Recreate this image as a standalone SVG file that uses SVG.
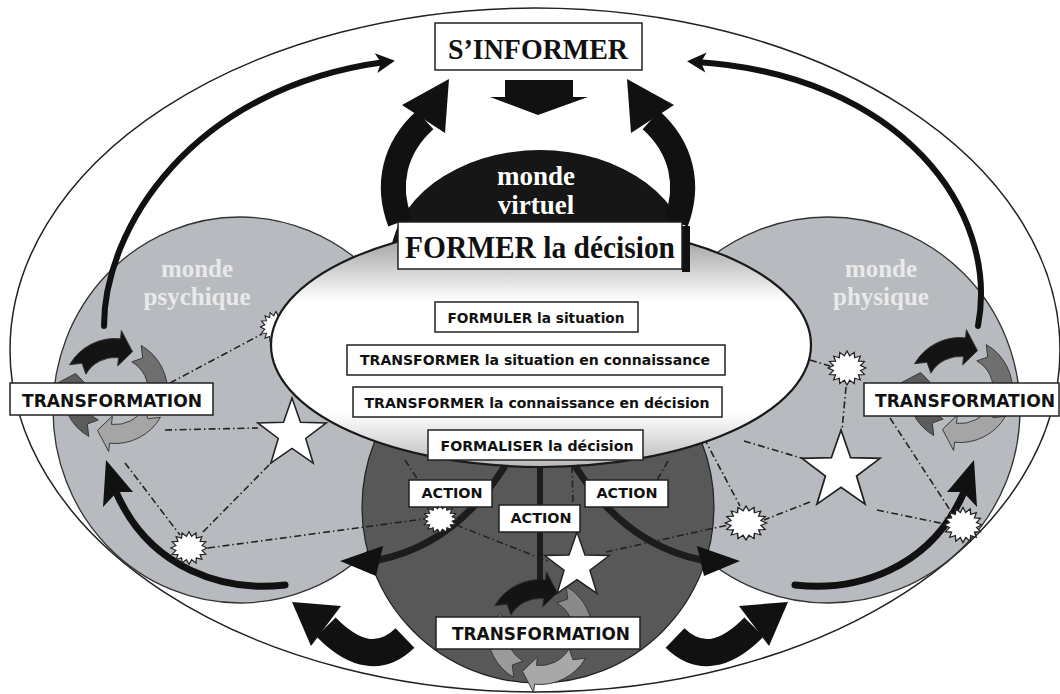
<svg xmlns="http://www.w3.org/2000/svg" width="1060" height="694" viewBox="0 0 1060 694">
<style>
.serif{font-family:"Liberation Serif","DejaVu Serif",serif;font-weight:bold}
.sans{font-family:"DejaVu Sans","Liberation Sans",sans-serif;font-weight:bold;fill:#111}
.box{fill:#fff;stroke:#222;stroke-width:1.5}
.net{fill:none;stroke:#222;stroke-width:1.6;stroke-dasharray:7 3 1.5 3}
.dark{fill:#111}
.seg{stroke:#333;stroke-width:0.8}
.star{fill:#fff;stroke:#222;stroke-width:1.5}
.burst{fill:#fff;stroke:#222;stroke-width:0.9}
</style>
<defs>
<linearGradient id="eg" x1="0" y1="0" x2="0" y2="1">
<stop offset="0" stop-color="#8a8a8a"/>
<stop offset="0.32" stop-color="#ffffff"/>
<stop offset="0.78" stop-color="#ffffff"/>
<stop offset="1" stop-color="#b8b8b8"/>
</linearGradient>
<path id="seg" d="M50,0 A50,50 0 0 1 20.34,45.68 L23.59,52.99 L4.29,40.78 L9.76,21.92 L13.02,29.23 A32,32 0 0 0 32,0 L40.38,7.12 Z"/>
<path id="star" d="M0,-35 L8.23,-11.33 L33.29,-10.82 L13.31,4.33 L20.57,28.32 L0,14 L-20.57,28.32 L-13.31,4.33 L-33.29,-10.82 L-8.23,-11.33 Z"/>
<path id="burst" d="M13,0 L9.32,1.85 L12.01,4.97 L7.9,5.28 L9.19,9.19 L5.28,7.9 L4.97,12.01 L1.85,9.32 L0,13 L-1.85,9.32 L-4.97,12.01 L-5.28,7.9 L-9.19,9.19 L-7.9,5.28 L-12.01,4.97 L-9.32,1.85 L-13,0 L-9.32,-1.85 L-12.01,-4.97 L-7.9,-5.28 L-9.19,-9.19 L-5.28,-7.9 L-4.97,-12.01 L-1.85,-9.32 L0,-13 L1.85,-9.32 L4.97,-12.01 L5.28,-7.9 L9.19,-9.19 L7.9,-5.28 L12.01,-4.97 L9.32,-1.85 Z"/>
<marker id="barb" markerUnits="userSpaceOnUse" viewBox="-12 -12 24 24" markerWidth="24" markerHeight="24" refX="0" refY="0" orient="auto"><path d="M10,0 L-9,-10 L-4,0 L-9,10 Z" fill="#111"/></marker>
</defs>
<rect width="1060" height="694" fill="#fff"/>

<g id="outer">
<ellipse cx="535" cy="350" rx="525" ry="342" fill="#fff" stroke="#222" stroke-width="1.5"/>
</g>

<g id="monde-psychique">
<ellipse cx="240" cy="410" rx="187" ry="193" fill="#b7babe" stroke="#333" stroke-width="1.3"/>
</g>
<g id="monde-physique">
<ellipse cx="828" cy="410" rx="192" ry="193" fill="#b7babe" stroke="#333" stroke-width="1.3"/>
</g>
<g id="monde-bas">
<circle cx="538" cy="507" r="176" fill="#585858" stroke="#222" stroke-width="1.2"/>
</g>
<g id="monde-virtuel">
<ellipse cx="540" cy="262" rx="150" ry="112" fill="#161616"/>
</g>

<g id="bursts-under">
<use href="#burst" class="burst" transform="translate(276,327) scale(1.2)"/>
</g>

<g id="connectors">
<path class="net" d="M170,383 L262,334"/>
<path class="net" d="M165,430 L258,428"/>
<path class="net" d="M125,463 L180,535"/>
<path class="net" d="M203,532 L272,462"/>
<path class="net" d="M208,548 L424,519"/>
<path class="net" d="M456,525 L550,562"/>
<path class="net" d="M606,552 L728,525"/>
<path class="net" d="M572,466 L573,505"/>
<path class="net" d="M405,460 L418,480"/>
<path class="net" d="M668,461 L657,480"/>
<path class="net" d="M704,438 L740,506"/>
<path class="net" d="M744,441 L808,460"/>
<path class="net" d="M810,360 L830,366"/>
<path class="net" d="M846,387 L842,430"/>
<path class="net" d="M890,418 L950,510"/>
<path class="net" d="M810,502 L764,520"/>
<path class="net" d="M877,510 L945,524"/>

<path d="M104,326 C104,230 190,88 385,62" fill="none" stroke="#111" stroke-width="6" stroke-linecap="round" marker-end="url(#barb)"/>
<path d="M978,326 C1000,210 900,75 697,62" fill="none" stroke="#111" stroke-width="6" stroke-linecap="round" marker-end="url(#barb)"/>

<path d="M285,585 C225,592 150,570 116,492" fill="none" stroke="#111" stroke-width="7" stroke-linecap="round"/>
<polygon class="dark" points="106,460 103,507 117,492 133,492"/>
<path d="M795,585 C855,592 930,570 964,492" fill="none" stroke="#111" stroke-width="7" stroke-linecap="round"/>
<polygon class="dark" points="974,460 977,507 963,492 947,492"/>

<path d="M400,222 C386,185 394,148 425,120" fill="none" stroke="#111" stroke-width="25"/>
<polygon class="dark" points="402,105 449,79 445,133"/>
<path d="M676,222 C690,185 682,148 651,120" fill="none" stroke="#111" stroke-width="25"/>
<polygon class="dark" points="674,105 627,79 631,133"/>

<path d="M326,627 Q370,672 405,638" fill="none" stroke="#111" stroke-width="27"/>
<polygon class="dark" points="292,602 311,646 341,606"/>
<path d="M754,627 Q710,672 675,638" fill="none" stroke="#111" stroke-width="27"/>
<polygon class="dark" points="788,602 769,646 739,606"/>
</g>

<g id="cycle-left" transform="translate(115,391) scale(1.05)">
<use href="#seg" class="seg" transform="rotate(-150)" fill="#141414"/>
<use href="#seg" class="seg" transform="rotate(-60)" fill="#6f6f6f"/>
<use href="#seg" class="seg" transform="rotate(30)" fill="#a5a5a5"/>
<use href="#seg" class="seg" transform="rotate(120)" fill="#5c5c5c"/>
</g>
<g id="cycle-right" transform="translate(960,390) scale(1.05)">
<use href="#seg" class="seg" transform="rotate(-150)" fill="#141414"/>
<use href="#seg" class="seg" transform="rotate(-60)" fill="#6f6f6f"/>
<use href="#seg" class="seg" transform="rotate(30)" fill="#a5a5a5"/>
<use href="#seg" class="seg" transform="rotate(120)" fill="#5c5c5c"/>
</g>
<g id="cycle-bottom" transform="translate(540,632) scale(1.05)">
<use href="#seg" class="seg" transform="rotate(-150)" fill="#141414"/>
<use href="#seg" class="seg" transform="rotate(-60)" fill="#8a8a8a"/>
<use href="#seg" class="seg" transform="rotate(30)" fill="#a8a8a8"/>
<use href="#seg" class="seg" transform="rotate(120)" fill="#9a9a9a"/>
</g>

<g id="decision-ellipse">
<ellipse cx="541" cy="345" rx="270" ry="122" fill="url(#eg)" stroke="#1a1a1a" stroke-width="2.2"/>
</g>

<g id="action-arrows">
<path d="M505,466 Q455,545 378,560" fill="none" stroke="#1c1c1c" stroke-width="7"/>
<polygon class="dark" points="340,561 383,546 376,576"/>
<path d="M575,466 Q625,545 702,560" fill="none" stroke="#1c1c1c" stroke-width="7"/>
<polygon class="dark" points="740,561 697,546 704,576"/>
<path d="M540,466 L540,580" fill="none" stroke="#1c1c1c" stroke-width="6"/>
</g>

<g id="stars">
<use href="#star" class="star" transform="translate(292,434) scale(1.03)"/>
<use href="#star" class="star" transform="translate(841,471) scale(1.17)"/>
<use href="#star" class="star" transform="translate(577,566) scale(0.97)"/>
</g>
<g id="bursts">
<use href="#burst" class="burst" transform="translate(189,548) scale(1.4,1.25)"/>
<use href="#burst" class="burst" transform="translate(440,519) scale(1.3,1.1)"/>
<use href="#burst" class="burst" transform="translate(847,368) scale(1.45,1.3)"/>
<use href="#burst" class="burst" transform="translate(746,523) scale(1.6,1.3)"/>
<use href="#burst" class="burst" transform="translate(963,525) scale(1.45,1.35)"/>
</g>

<g id="labels-mondes">
<text class="serif" x="536" y="185" font-size="27" fill="#fff" text-anchor="middle">monde</text>
<text class="serif" x="536" y="214" font-size="27" fill="#fff" text-anchor="middle">virtuel</text>
<text class="serif" x="197" y="277" font-size="25" fill="#e9e9e9" text-anchor="middle">monde</text>
<text class="serif" x="197" y="305" font-size="25" fill="#e9e9e9" text-anchor="middle">psychique</text>
<text class="serif" x="881" y="277" font-size="25" fill="#e9e9e9" text-anchor="middle">monde</text>
<text class="serif" x="881" y="305" font-size="25" fill="#e9e9e9" text-anchor="middle">physique</text>
</g>

<g id="s-informer">
<rect class="box" x="435" y="23" width="207" height="47" stroke-width="2"/>
<text class="serif" x="538" y="59" font-size="30" text-anchor="middle" textLength="180" lengthAdjust="spacingAndGlyphs" fill="#111">S’INFORMER</text>
</g>
<g id="down-arrow">
<polygon class="dark" points="505,80 573,80 573,97 588,97 538,115 490,97 505,97"/>
</g>

<g id="former">
<rect x="682" y="226" width="8" height="46" fill="#111"/>
<rect class="box" x="398" y="222" width="284" height="47" stroke-width="2"/>
<text class="serif" x="540" y="258" font-size="31" text-anchor="middle" textLength="270" lengthAdjust="spacingAndGlyphs" fill="#111">FORMER la décision</text>
</g>

<g id="formuler">
<rect class="box" x="435" y="302" width="203" height="30"/>
<text class="sans" x="536" y="323" font-size="13.5" text-anchor="middle" textLength="177" lengthAdjust="spacingAndGlyphs">FORMULER la situation</text>
</g>
<g id="transformer-situation">
<rect class="box" x="347" y="345" width="378" height="30"/>
<text class="sans" x="535" y="365" font-size="13.5" text-anchor="middle" textLength="350" lengthAdjust="spacingAndGlyphs">TRANSFORMER la situation en connaissance</text>
</g>
<g id="transformer-connaissance">
<rect class="box" x="353" y="387" width="369" height="30"/>
<text class="sans" x="537" y="408" font-size="13.5" text-anchor="middle" textLength="345" lengthAdjust="spacingAndGlyphs">TRANSFORMER la connaissance en décision</text>
</g>
<g id="formaliser">
<rect class="box" x="428" y="430" width="215" height="30"/>
<text class="sans" x="537" y="451" font-size="13.5" text-anchor="middle" textLength="193" lengthAdjust="spacingAndGlyphs">FORMALISER la décision</text>
</g>

<g id="action-left">
<rect class="box" x="409" y="480" width="83" height="27"/>
<text class="sans" x="452" y="498" font-size="14" text-anchor="middle" textLength="61" lengthAdjust="spacingAndGlyphs">ACTION</text>
</g>
<g id="action-middle">
<rect class="box" x="499" y="505" width="81" height="27"/>
<text class="sans" x="541" y="523" font-size="14" text-anchor="middle" textLength="61" lengthAdjust="spacingAndGlyphs">ACTION</text>
</g>
<g id="action-right">
<rect class="box" x="585" y="480" width="83" height="27"/>
<text class="sans" x="627" y="498" font-size="14" text-anchor="middle" textLength="61" lengthAdjust="spacingAndGlyphs">ACTION</text>
</g>

<g id="transformation-left">
<rect class="box" x="10" y="383" width="203" height="32"/>
<text class="sans" x="112" y="407" font-size="17" text-anchor="middle" textLength="180" lengthAdjust="spacingAndGlyphs">TRANSFORMATION</text>
</g>
<g id="transformation-right">
<rect class="box" x="864" y="383" width="195" height="33"/>
<text class="sans" x="965" y="407" font-size="17" text-anchor="middle" textLength="180" lengthAdjust="spacingAndGlyphs">TRANSFORMATION</text>
</g>
<g id="transformation-bottom">
<rect class="box" x="436" y="617" width="204" height="32"/>
<text class="sans" x="541" y="640" font-size="17" text-anchor="middle" textLength="178" lengthAdjust="spacingAndGlyphs">TRANSFORMATION</text>
</g>
</svg>
